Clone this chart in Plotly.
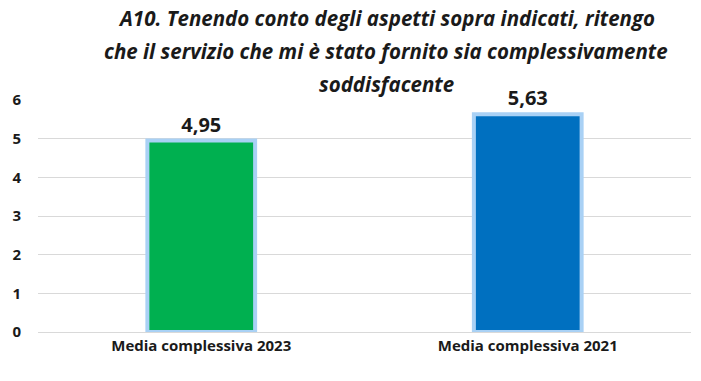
import plotly.graph_objects as go

categories = ["Media complessiva 2023", "Media complessiva 2021"]
values = [4.95, 5.63]
colors = ["#00b050", "#0070c0"]
y_ticks = [0, 1, 2, 3, 4, 5, 6]
title_lines = [
    "A10. Tenendo conto degli aspetti sopra indicati, ritengo",
    "che il servizio che mi è stato fornito sia complessivamente",
    "soddisfacente",
]

W, H = 701, 381
L, R, T, B = 38, 10, 100, 49

fig = go.Figure()
fig.add_trace(go.Bar(
    x=categories, y=values,
    marker=dict(color=colors, line=dict(color="#a9d1f5", width=4)),
    width=0.33,
    text=[f"{v:.2f}".replace(".", ",") for v in values],
    texttemplate="<b>%{text}</b>",
    textposition="outside",
    textfont=dict(size=20, color="#1a1a1a", family="Open Sans"),
    cliponaxis=False,
    hoverinfo="skip",
))

title_y_px = [18, 51, 84]
for line, ypx in zip(title_lines, title_y_px):
    fig.add_annotation(
        text="<b><i>" + line + "</i></b>",
        xref="paper", yref="paper",
        x=(386 - L) / (W - L - R), y=(H - B - ypx) / (H - T - B),
        xanchor="center", yanchor="middle", showarrow=False,
        font=dict(size=20.5, family="Open Sans", color="#1a1a1a"),
    )

fig.update_layout(
    width=W, height=H,
    margin=dict(l=L, r=R, t=T, b=B),
    paper_bgcolor="white", plot_bgcolor="white",
    separators=",.",
    showlegend=False,
    font=dict(family="Open Sans", color="#1a1a1a"),
)
fig.update_yaxes(range=[0, 6], tickvals=y_ticks, showgrid=True, gridcolor="#d9d9d9",
                 gridwidth=1, zeroline=False, showline=False,
                 tickfont=dict(size=15, family="Open Sans", color="#1a1a1a", weight="bold"),
                 ticklabelstandoff=16)
fig.update_xaxes(showline=True, linecolor="#d9d9d9",
                 tickfont=dict(size=15, family="Open Sans", color="#1a1a1a", weight="bold"))
fig.write_html("out.html", config={"displayModeBar": False},
               post_script="document.body.style.margin='0';")
